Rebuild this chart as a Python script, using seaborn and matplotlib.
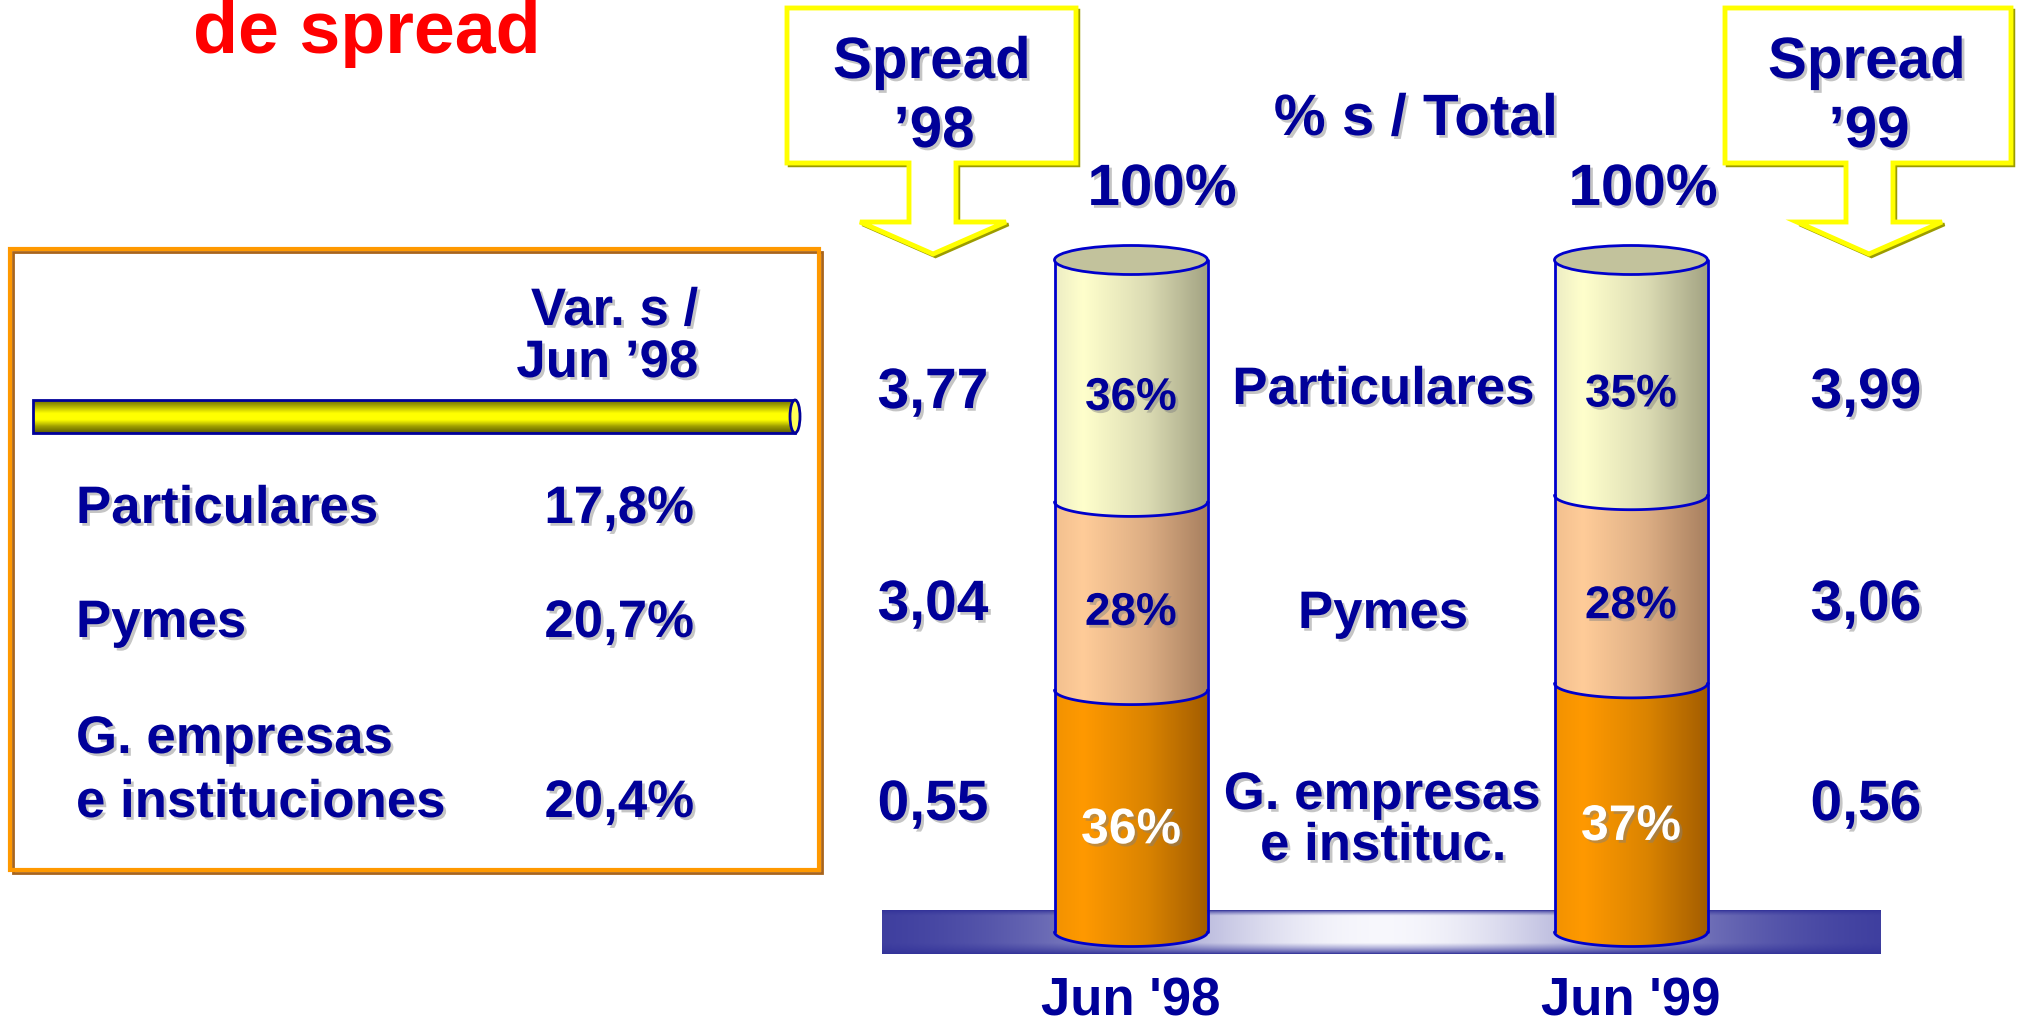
import numpy as np
import pandas as pd
import seaborn as sns
import matplotlib.pyplot as plt
import matplotlib.patheffects as pe
from matplotlib.colors import LinearSegmentedColormap
from matplotlib.patches import Polygon, Rectangle, Ellipse

# --- data ---
years = ["Jun '98", "Jun '99"]
share_particulares = [36, 35]
share_pymes = [28, 28]
share_grandes = [36, 37]
segment_labels = ["Particulares", "Pymes", "G. empresas\ne instituc."]
spread_98 = [3.77, 3.04, 0.55]
spread_99 = [3.99, 3.06, 0.56]
var_labels = ["Particulares", "Pymes", "G. empresas\ne instituciones"]
var_values = [17.8, 20.7, 20.4]

NAVY = '#000099'
EDGE = '#0000CC'
W, H = 2020, 1024

sns.set_style("white")
plt.rcParams['font.family'] = ['Liberation Sans', 'DejaVu Sans']
plt.rcParams['font.weight'] = 'bold'

shadow = [pe.withSimplePatchShadow(offset=(2, -2), shadow_rgbFace='#808080', alpha=0.45)]


def comma(v, dec):
    return f"{v:.{dec}f}".replace('.', ',')


def label(ax, x, y, s, size, ha='center', color=NAVY, fx=True):
    return ax.text(x, y, s, fontsize=size, ha=ha, va='baseline', color=color,
                   fontweight='bold', path_effects=shadow if fx else None, clip_on=False)


fig = plt.figure(figsize=(W / 100, H / 100), dpi=100)
bg = fig.add_axes([0, 0, 1, 1])
bg.set_xlim(0, W)
bg.set_ylim(H, 0)
bg.set_axis_off()

# title fragment (top of slide is cut)
bg.text(367, 53, "de spread", fontsize=53, color='#FF0000', ha='center', va='baseline',
        fontweight='bold')

# --- left table box ---
bg.add_patch(Rectangle((13, 252), 809, 621, fill=False, ec='#A8641C', lw=2))
bg.add_patch(Rectangle((10, 249), 809, 621, fill=False, ec='#FF9900', lw=3))

tube_cmap = LinearSegmentedColormap.from_list(
    'tube', ['#6B6B00', '#B5B500', '#FFFF00', '#FFFF00', '#A0A000', '#5E5E00'])
bg.imshow(np.linspace(0, 1, 64)[:, None], cmap=tube_cmap, extent=(33, 795, 433, 400),
          aspect='auto', interpolation='bilinear', zorder=2)
bg.add_patch(Rectangle((33, 400), 762, 33, fill=False, ec=NAVY, lw=2, zorder=3))
bg.add_patch(Ellipse((795, 416.5), 10, 33, fc='#FFFF55', ec=NAVY, lw=2, zorder=4))

label(bg, 698, 325, "Var. s /", 38, ha='right')
label(bg, 698, 377, "Jun \u201998", 38, ha='right')

row_base = [523, 637, 817]
for lab, val, yb in zip(var_labels, var_values, row_base):
    lines = lab.split('\n')
    for k, line in enumerate(lines):
        label(bg, 76, yb - (len(lines) - 1 - k) * 64, line, 38, ha='left')
    label(bg, 694, yb, comma(val, 1) + '%', 38, ha='right')


# --- callout arrows ---
def callout(x0, x1, s0, s1, h0, h1, tip):
    pts = [(x0, 8), (x1, 8), (x1, 163), (s1, 163), (s1, 222), (h1, 222), (tip, 254),
           (h0, 222), (s0, 222), (s0, 163), (x0, 163)]
    sh = [(x + 2.5, y + 2.5) for x, y in pts]
    bg.add_patch(Polygon(sh, closed=True, fill=False, ec='#9C9C00', lw=2.5, zorder=2))
    bg.add_patch(Polygon(pts, closed=True, fc='white', ec='#FFFF00', lw=3.5, zorder=3))


callout(787, 1076, 909, 956, 860, 1006, 933)
callout(1725, 2011, 1846, 1893, 1797, 1942, 1869)
label(bg, 932, 78, "Spread", 42)
label(bg, 934, 147, "\u201998", 42)
label(bg, 1867, 78, "Spread", 42)
label(bg, 1869, 147, "\u201999", 42)
label(bg, 1416, 135, "% s / Total", 42)

# --- base plate under the cylinders ---
xs = np.linspace(0, 1, 400)
ys = np.linspace(0, 1, 60)
whiteness = np.exp(-((xs - 0.5) / 0.3) ** 2)
vert = np.clip(np.minimum(ys / 0.12, (1 - ys) / 0.25), 0, 1) ** 0.7
a = vert[:, None] * whiteness[None, :]
navy = np.array([0.2, 0.2, 0.6])
white = np.array([0.97, 0.97, 0.99])
plate = navy[None, None, :] * (1 - a[..., None]) + white[None, None, :] * a[..., None]
bg.imshow(plate, extent=(882, 1881, 954, 910), aspect='auto', interpolation='bilinear', zorder=1)

# --- stacked cylinders ---
PX_X0, PX_X1 = 881, 1881
PY_TOP, PY_BOT = 180, 1000
Y0_PX, Y100_PX = 932, 260
ppu = (Y0_PX - Y100_PX) / 100
ylim = (-(PY_BOT - Y0_PX) / ppu, 100 + (Y100_PX - PY_TOP) / ppu)
ax = fig.add_axes([PX_X0 / W, 1 - PY_BOT / H, (PX_X1 - PX_X0) / W, (PY_BOT - PY_TOP) / H])

df = pd.DataFrame({'year': years, 'Particulares': share_particulares,
                   'Pymes': share_pymes, 'Grandes': share_grandes})
df['cum_g'] = df['Grandes']
df['cum_p'] = df['cum_g'] + df['Pymes']
df['cum_t'] = df['cum_p'] + df['Particulares']

cmaps = [
    LinearSegmentedColormap.from_list('part', [(0, '#EDEDC4'), (0.18, '#FFFFCC'), (0.6, '#DCDCB4'), (1, '#A3A383')]),
    LinearSegmentedColormap.from_list('pym', [(0, '#F2C08F'), (0.18, '#FFCC99'), (0.6, '#DDAE84'), (1, '#A88060')]),
    LinearSegmentedColormap.from_list('gra', [(0, '#F29200'), (0.18, '#FF9900'), (0.6, '#DB8400'), (1, '#A35D00')]),
]
layer_cols = ['cum_t', 'cum_p', 'cum_g']
value_cols = ['Particulares', 'Pymes', 'Grandes']
total_label_dx = [0.062, 0.024]  # the "100%" captions sit a little right of each cylinder

bars = []
for col in layer_cols:
    n0 = len(ax.patches)
    sns.barplot(data=df, x='year', y=col, width=0.306, color='white', errorbar=None, ax=ax)
    bars.append(ax.patches[n0:])

RY = 14.5 / ppu
t = np.linspace(np.pi, 2 * np.pi, 80)
grad = np.linspace(0, 1, 128)[None, :]

for k in range(3):
    for i, p in enumerate(bars[k]):
        top = p.get_height()
        bottom = bars[k + 1][i].get_height() if k < 2 else 0
        x0, w = p.get_x(), p.get_width()
        cx, rx = x0 + w / 2, w / 2
        p.set_visible(False)
        top_x, top_y = cx + rx * np.cos(t), top + RY * np.sin(t)
        bot_x, bot_y = cx + rx * np.cos(t), bottom + RY * np.sin(t)
        xy = np.column_stack([np.r_[top_x, bot_x[::-1]], np.r_[top_y, bot_y[::-1]]])
        poly = Polygon(xy, closed=True, transform=ax.transData)
        im = ax.imshow(grad, cmap=cmaps[k], extent=(x0, x0 + w, bottom - RY - 1, top + 1),
                       aspect='auto', interpolation='bilinear', zorder=2)
        im.set_clip_path(poly)
        ax.plot(bot_x, bot_y, color=EDGE, lw=2, zorder=4)
        ax.plot([x0, x0], [bottom, top], color=EDGE, lw=2, zorder=4)
        ax.plot([x0 + w, x0 + w], [bottom, top], color=EDGE, lw=2, zorder=4)
        if k == 0:
            ax.add_patch(Ellipse((cx, top), w, 2 * RY, fc='#C2C29C', ec=EDGE, lw=2, zorder=5))
            label(ax, cx + total_label_dx[i], top + (260 - 205) / ppu, f"{int(round(top))}%", 42)
        share = df[value_cols[k]].iloc[i]
        if k == 2:
            label(ax, cx, (bottom + top) / 2 - 4.8, f"{share}%", 36, color='white')
        else:
            label(ax, cx, (bottom + top) / 2 - 4.3, f"{share}%", 33)

for i, yr in enumerate(years):
    label(ax, i, -(1015 - Y0_PX) / ppu, yr, 38, fx=False)

ax.set_xlim(-0.5, 1.5)
ax.set_ylim(*ylim)
ax.set_axis_off()

# segment names between the cylinders
label(bg, 1383, 404, segment_labels[0], 38)
label(bg, 1383, 628, segment_labels[1], 38)
g1, g2 = segment_labels[2].split('\n')
label(bg, 1382, 809, g1, 38)
label(bg, 1383, 860, g2, 38)

# spread figures on both sides
spread_base = [408, 620, 820]
for v98, v99, yb in zip(spread_98, spread_99, spread_base):
    label(bg, 933, yb, comma(v98, 2), 41)
    label(bg, 1866, yb, comma(v99, 2), 41)

bg.set_xlim(0, W)
bg.set_ylim(H, 0)
fig.savefig('out.png', dpi=100)
